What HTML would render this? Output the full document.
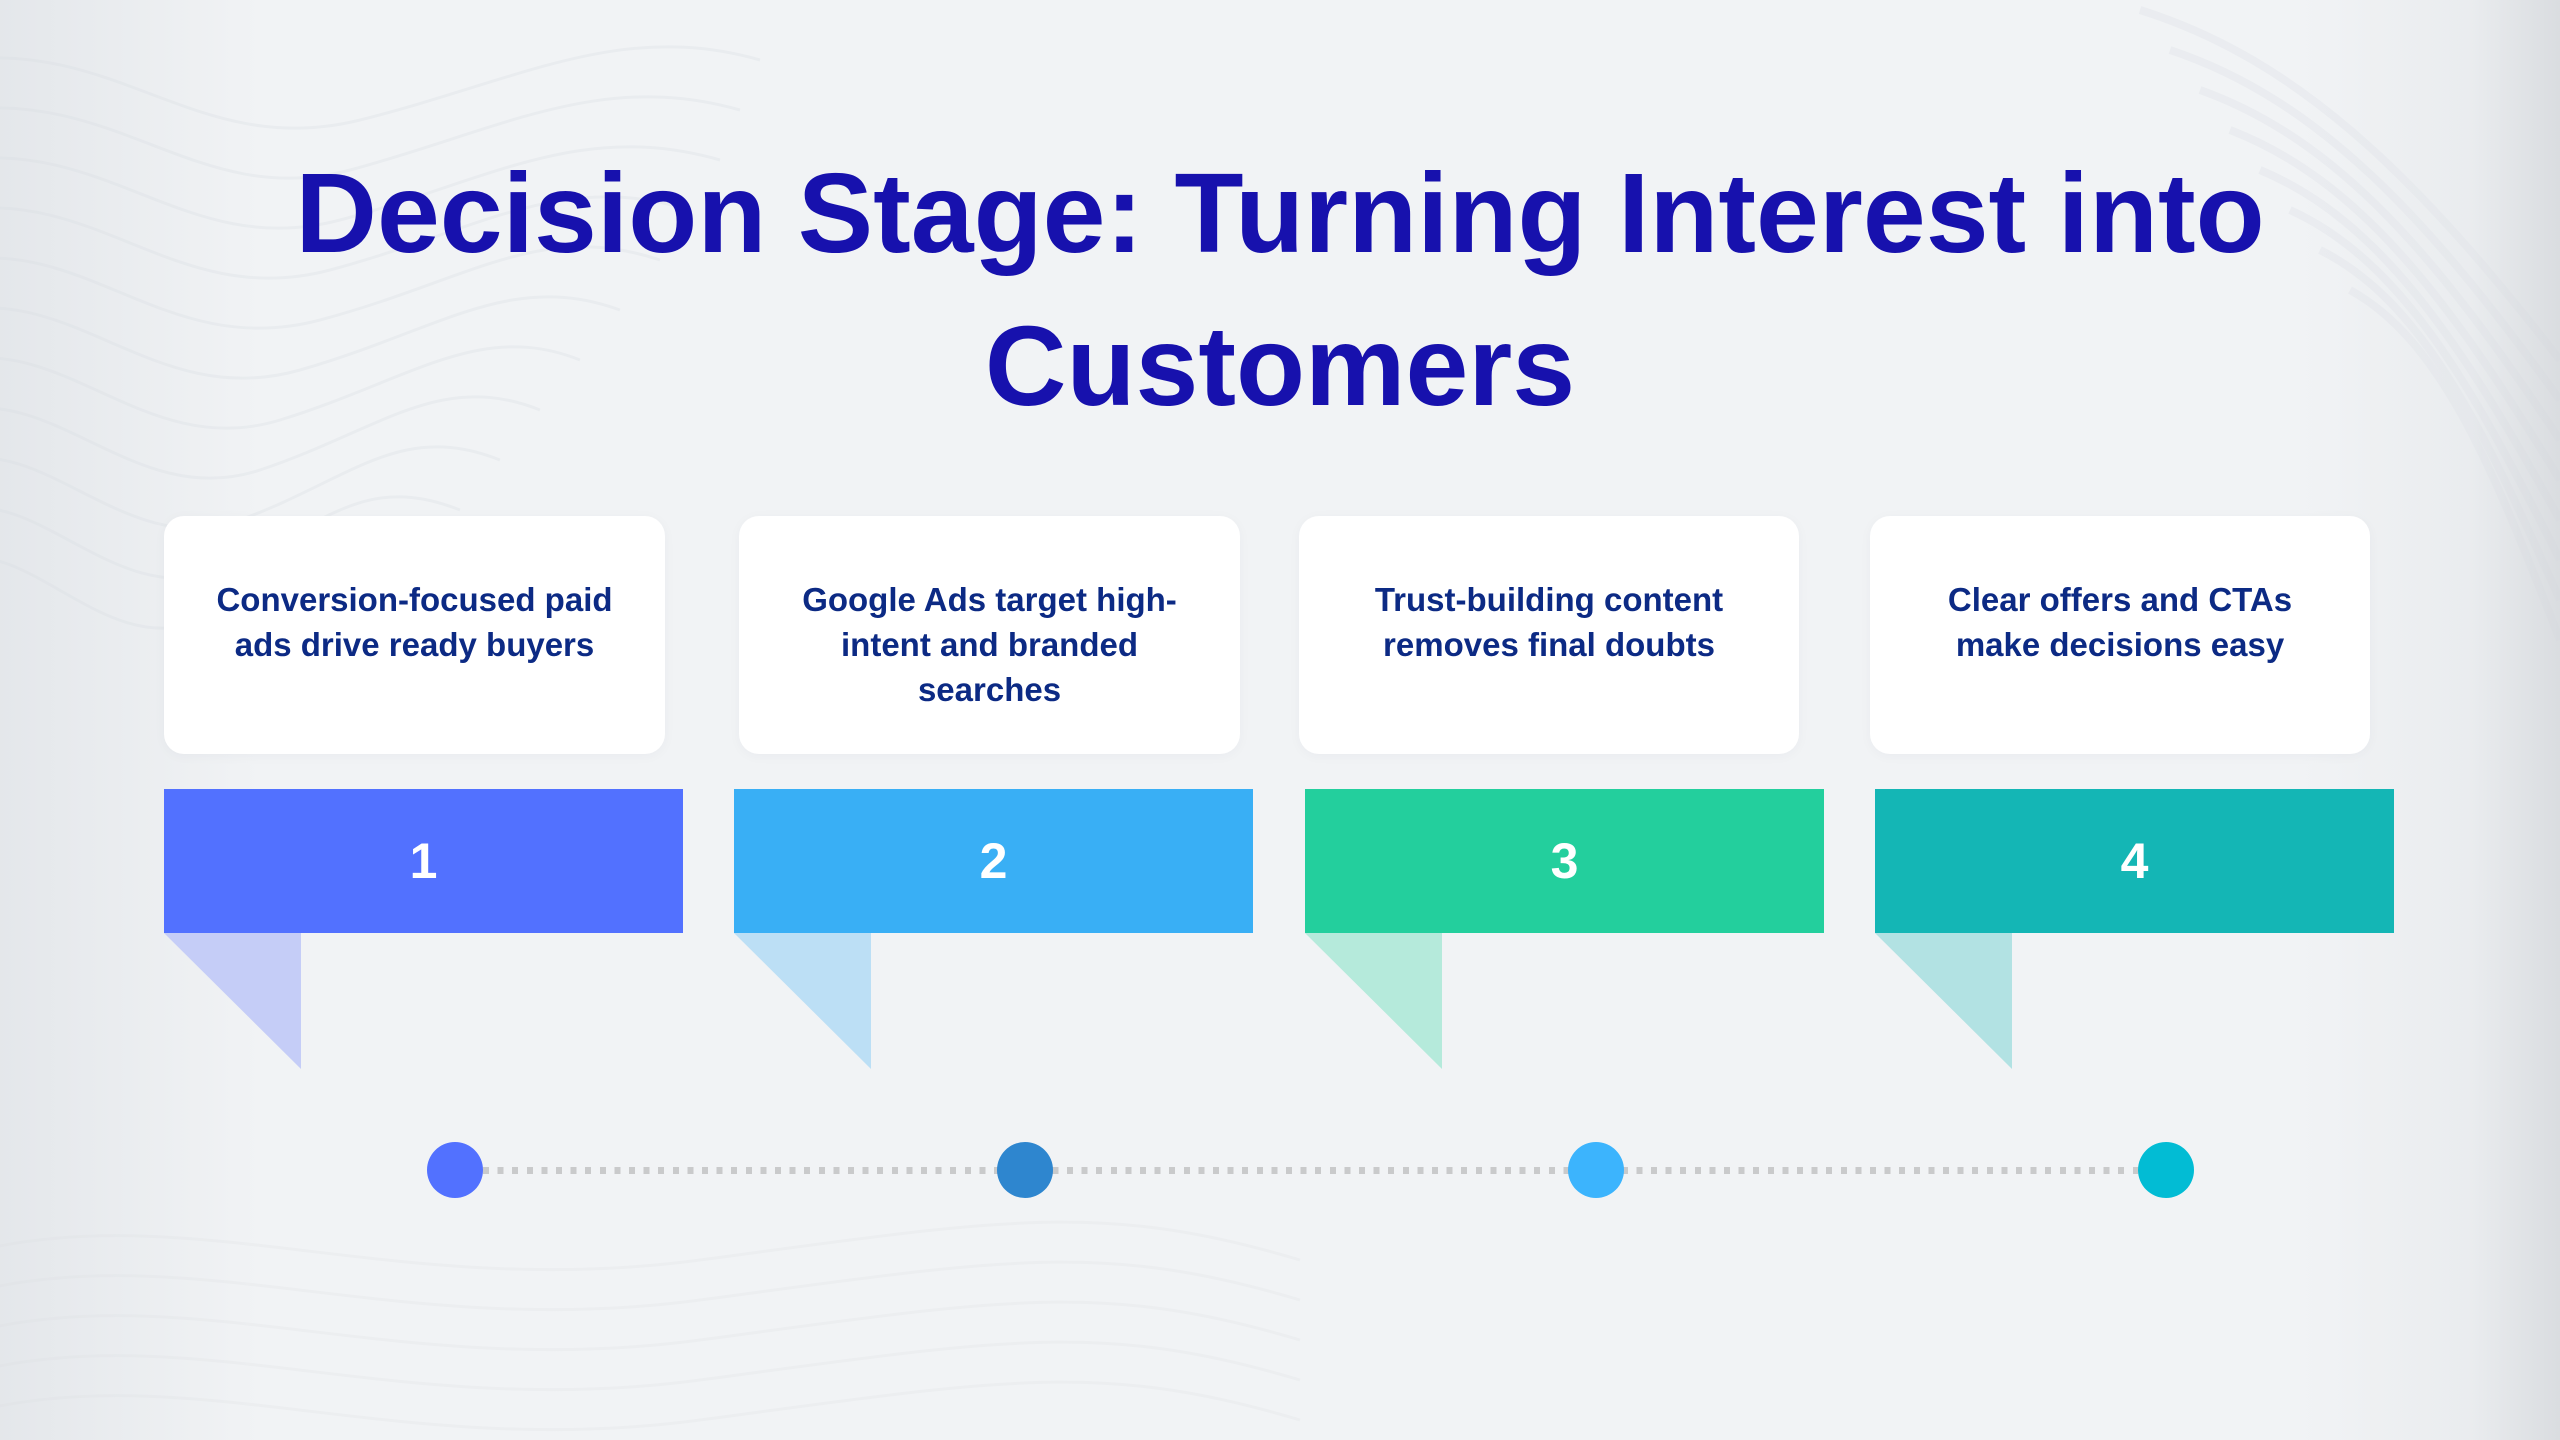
<!DOCTYPE html>
<html>
<head>
<meta charset="utf-8">
<style>
  html, body { margin:0; padding:0; }
  body { width:2560px; height:1440px; overflow:hidden; position:relative;
    background:#f1f3f5; font-family:"Liberation Sans", Arial, sans-serif; }
  .bg { position:absolute; left:0; top:0; width:2560px; height:1440px; }
  .edgeL { position:absolute; left:0; top:0; width:260px; height:1440px;
    background:linear-gradient(to right, rgba(215,219,224,0.5), rgba(241,243,245,0)); }
  .edgeR { position:absolute; right:0; top:0; width:260px; height:1440px;
    background:linear-gradient(to left, rgba(210,213,217,0.75) 0px, rgba(225,228,231,0.45) 90px, rgba(241,243,245,0) 260px); }
  .title { position:absolute; left:0; top:137px; width:2560px; text-align:center;
    font-weight:700; font-size:113px; line-height:153px; color:#1711ad; letter-spacing:0px; }
  .card { position:absolute; top:516px; height:238px; background:#ffffff; border-radius:20px;
    box-shadow:0 2px 12px rgba(30,40,80,0.035); box-sizing:border-box; padding-top:61px;
    text-align:center; color:#0c2a84; font-weight:700; font-size:33px; line-height:45px; white-space:nowrap; }
  .rib { position:absolute; top:789px; height:144px; width:519px; color:#fff; font-weight:700;
    font-size:50px; line-height:144px; text-align:center; }
  .tail { position:absolute; top:933px; width:137px; height:136px; }
  .dots { position:absolute; left:483px; top:1167px; width:1655px; height:7px;
    background:repeating-linear-gradient(to right, #c9cacb 0px, #c9cacb 6px, transparent 6px, transparent 14.6px); }
  .dot { position:absolute; top:1142px; width:56px; height:56px; border-radius:50%; }
</style>
</head>
<body>
<svg class="bg" width="2560" height="1440" viewBox="0 0 2560 1440" xmlns="http://www.w3.org/2000/svg">
  <g fill="none" stroke="#e4e7eb" stroke-width="3" opacity="0.55">
    <path d="M-40 60 C 120 40, 200 160, 360 120 S 620 20, 760 60"/>
    <path d="M-40 110 C 120 90, 200 210, 350 170 S 600 70, 740 110"/>
    <path d="M-40 160 C 110 140, 190 260, 340 220 S 580 120, 720 160"/>
    <path d="M-40 210 C 100 190, 180 310, 330 270 S 560 170, 690 210"/>
    <path d="M-40 260 C 90 240, 170 360, 320 320 S 540 220, 660 260"/>
    <path d="M-40 310 C 80 290, 160 410, 300 370 S 510 270, 620 310"/>
    <path d="M-40 360 C 70 340, 150 460, 280 420 S 480 320, 580 360"/>
    <path d="M-40 410 C 60 390, 140 510, 260 470 S 440 370, 540 410"/>
    <path d="M-40 460 C 50 440, 130 560, 240 520 S 400 420, 500 460"/>
    <path d="M-40 510 C 40 490, 120 610, 220 570 S 360 470, 460 510"/>
    <path d="M-40 560 C 30 540, 110 660, 200 620 S 320 520, 420 560"/>
  </g>
  <g fill="none" stroke="#e6e8ec" stroke-width="3" opacity="0.45">
    <path d="M-20 1250 C 200 1200, 400 1300, 700 1260 S 1100 1200, 1300 1260"/>
    <path d="M-20 1290 C 200 1240, 400 1340, 700 1300 S 1100 1240, 1300 1300"/>
    <path d="M-20 1330 C 200 1280, 400 1380, 700 1340 S 1100 1280, 1300 1340"/>
    <path d="M-20 1370 C 200 1320, 400 1420, 700 1380 S 1100 1320, 1300 1380"/>
    <path d="M-20 1410 C 200 1360, 400 1460, 700 1420 S 1100 1360, 1300 1420"/>
  </g>
  <g fill="none" stroke="#e2e5ea" stroke-width="8" opacity="0.45">
    <path d="M2140 10 C 2300 60, 2420 180, 2560 360"/>
    <path d="M2170 50 C 2320 100, 2430 220, 2560 400"/>
    <path d="M2200 90 C 2340 140, 2440 260, 2560 440"/>
    <path d="M2230 130 C 2360 180, 2450 300, 2560 480"/>
    <path d="M2260 170 C 2380 220, 2460 340, 2560 520"/>
    <path d="M2290 210 C 2400 260, 2470 380, 2560 560"/>
    <path d="M2320 250 C 2420 300, 2480 420, 2560 600"/>
    <path d="M2350 290 C 2440 340, 2490 460, 2560 640"/>
  </g>
</svg>
<div class="edgeL"></div>
<div class="edgeR"></div>

<div class="title">Decision Stage: Turning Interest into<br>Customers</div>

<div class="card" style="left:164px; width:501px;">Conversion-focused paid<br>ads drive ready buyers</div>
<div class="card" style="left:739px; width:501px;">Google Ads target high-<br>intent and branded<br>searches</div>
<div class="card" style="left:1299px; width:500px;">Trust-building content<br>removes final doubts</div>
<div class="card" style="left:1870px; width:500px;">Clear offers and CTAs<br>make decisions easy</div>

<div class="rib" style="left:164px; background:#5271ff;">1</div>
<div class="rib" style="left:734px; background:#39aff5;">2</div>
<div class="rib" style="left:1305px; background:#23cf9d;">3</div>
<div class="rib" style="left:1875px; background:#14b6b5;">4</div>

<svg class="tail" style="left:164px;" viewBox="0 0 137 136"><polygon points="0,0 137,0 137,136" fill="#c5cdf7"/></svg>
<svg class="tail" style="left:734px;" viewBox="0 0 137 136"><polygon points="0,0 137,0 137,136" fill="#bcdff5"/></svg>
<svg class="tail" style="left:1305px;" viewBox="0 0 137 136"><polygon points="0,0 137,0 137,136" fill="#b5eadb"/></svg>
<svg class="tail" style="left:1875px;" viewBox="0 0 137 136"><polygon points="0,0 137,0 137,136" fill="#b2e2e3"/></svg>

<div class="dots"></div>
<div class="dot" style="left:427px; background:#5271ff;"></div>
<div class="dot" style="left:997px; background:#2e86cf;"></div>
<div class="dot" style="left:1568px; background:#3cb4fd;"></div>
<div class="dot" style="left:2138px; background:#02bcd4;"></div>
</body>
</html>
